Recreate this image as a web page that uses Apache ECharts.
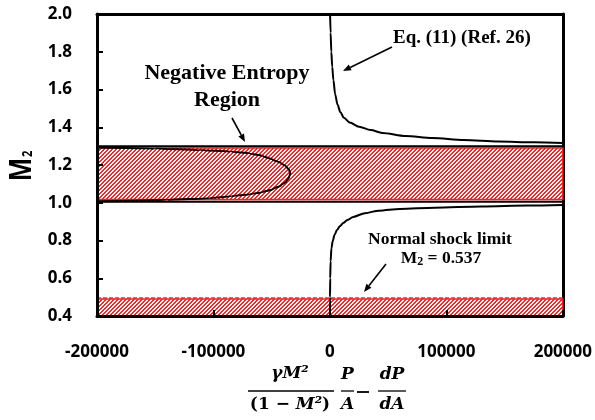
<!DOCTYPE html>
<html>
<head>
<meta charset="utf-8">
<script src="https://cdn.jsdelivr.net/npm/echarts@6/dist/echarts.min.js"></script>
<style>
  html, body { margin: 0; padding: 0; background: #ffffff; }
  #chart { width: 595px; height: 420px; }
</style>
</head>
<body>
<div id="chart"></div>
<script>
// Axis ticks
const xTickValues = [-200000, -100000, 0, 100000, 200000];
const yTickValues = [0.4, 0.6, 0.8, 1.0, 1.2, 1.4, 1.6, 1.8, 2.0];

// Eq. (11), upper branch: [x, M2]
const upperBranch = [
  [150, 2.0], [600, 1.90], [1200, 1.80], [2000, 1.72], [3000, 1.65], [4500, 1.575],
  [6500, 1.52], [9000, 1.48], [12000, 1.45], [17000, 1.425], [25000, 1.403],
  [35000, 1.385], [45000, 1.370], [65000, 1.354], [88000, 1.343], [115000, 1.333],
  [145000, 1.325], [175000, 1.320], [200000, 1.317]
];

// Eq. (11), lower branch: [x, M2]
const lowerBranch = [
  [0, 0.4], [100, 0.5], [250, 0.6], [600, 0.69], [1300, 0.76], [2500, 0.80],
  [4000, 0.83], [6000, 0.855], [8500, 0.875], [11500, 0.893], [15000, 0.908],
  [20000, 0.925], [30000, 0.945], [42000, 0.958], [60000, 0.967], [90000, 0.974],
  [130000, 0.980], [170000, 0.985], [200000, 0.988]
];

// Closed contour bounding the negative entropy region: [x, M2]
const entropyContour = [
  [-200000, 1.293], [-150000, 1.287], [-111800, 1.279], [-85000, 1.271], [-68900, 1.262],
  [-57000, 1.247], [-49000, 1.228], [-42000, 1.210], [-37500, 1.192], [-35000, 1.173],
  [-34100, 1.156], [-35000, 1.136], [-37500, 1.113], [-42000, 1.092], [-49000, 1.072],
  [-58000, 1.056], [-68900, 1.045], [-85000, 1.034], [-103200, 1.024], [-140000, 1.015],
  [-200000, 1.008]
];

// Horizontal limits
const asymptoteLevels = [1.30, 1.005];
const entropyBand = [1.017, 1.29];
const shockBand = [0.4, 0.49];
const shockLimitLevel = 0.496;

const xMin = xTickValues[0], xMax = xTickValues[xTickValues.length - 1];
const yMin = yTickValues[0], yMax = yTickValues[yTickValues.length - 1];

function hatchPattern() {
  const c = document.createElement('canvas');
  c.width = 4; c.height = 4;
  const g = c.getContext('2d');
  g.fillStyle = '#ffffff';
  g.fillRect(0, 0, 4, 4);
  g.fillStyle = '#ff2222';
  for (let x = 0; x < 4; x++) {
    for (let y = 0; y < 4; y++) {
      if ((x + y) % 4 < 2) g.fillRect(x, y, 1, 1);
    }
  }
  return c;
}
const hatch = { image: hatchPattern(), repeat: 'repeat' };

function arrow(x1, y1, x2, y2) {
  const ang = Math.atan2(y2 - y1, x2 - x1);
  const L = 8, W = 3.2;
  const bx = x2 - L * Math.cos(ang), by = y2 - L * Math.sin(ang);
  const nx = -Math.sin(ang), ny = Math.cos(ang);
  return [
    { type: 'line', shape: { x1: x1, y1: y1, x2: bx, y2: by },
      style: { stroke: '#000', lineWidth: 1.6 }, z: 50 },
    { type: 'polygon',
      shape: { points: [[x2, y2], [bx + nx * W, by + ny * W], [bx - nx * W, by - ny * W]] },
      style: { fill: '#000' }, z: 50 }
  ];
}

const serif = '"Liberation Serif", "Times New Roman", serif';
const mathFont = '"DejaVu Serif", serif';
const sans = '"Noto Sans", "DejaVu Sans", sans-serif';
const mathItalic = { fontFamily: mathFont, fontWeight: 'bold', fontStyle: 'italic', fontSize: 17, fill: '#000' };
const mathUpright = { fontFamily: mathFont, fontWeight: 'bold', fontSize: 17, fill: '#000' };

function hline(y, color, width, type) {
  return {
    type: 'line', data: [[xMin, y], [xMax, y]], symbol: 'none', silent: true,
    lineStyle: { color: color, width: width, type: type || 'solid' }, z: 5
  };
}

function frameLine() { return { show: true, onZero: false, lineStyle: { color: '#000', width: 3 } }; }
function tickStyle() {
  return { show: true, inside: true, length: 6, alignWithLabel: true,
           lineStyle: { color: '#000', width: 2 } };
}
const labelStyle = { color: '#000', fontFamily: sans, fontWeight: 'bold', fontSize: 17 };

const chart = echarts.init(document.getElementById('chart'), null, { renderer: 'canvas' });
chart.setOption({
  animation: false,
  backgroundColor: '#ffffff',
  grid: { left: 97, right: 31, top: 14, bottom: 104 },
  xAxis: [
    {
      type: 'value', position: 'bottom', min: xMin, max: xMax, interval: 100000,
      axisLine: frameLine(), axisTick: tickStyle(), splitLine: { show: false },
      axisLabel: Object.assign({ margin: 28, formatter: v => String(v) }, labelStyle), z: 10
    },
    {
      type: 'value', position: 'top', min: xMin, max: xMax,
      axisLine: frameLine(), axisTick: { show: false }, axisLabel: { show: false }, splitLine: { show: false }
    }
  ],
  yAxis: [
    {
      type: 'value', position: 'left', min: yMin, max: yMax, interval: 0.2,
      axisLine: frameLine(), axisTick: tickStyle(), splitLine: { show: false },
      axisLabel: Object.assign({ margin: 25, formatter: v => v.toFixed(1) }, labelStyle), z: 10
    },
    {
      type: 'value', position: 'right', min: yMin, max: yMax,
      axisLine: frameLine(), axisTick: { show: false }, axisLabel: { show: false }, splitLine: { show: false }
    }
  ],
  series: [
    {
      type: 'line', data: [], silent: true, z: 1,
      markArea: {
        silent: true,
        itemStyle: { color: hatch, borderColor: '#ff1a1a', borderWidth: 1.5 },
        data: [
          [{ xAxis: xMin, yAxis: entropyBand[0] }, { xAxis: xMax, yAxis: entropyBand[1] }],
          [{ xAxis: xMin, yAxis: shockBand[0] }, { xAxis: xMax, yAxis: shockBand[1] }]
        ]
      }
    },
    hline(asymptoteLevels[0], '#000', 2),
    hline(asymptoteLevels[1], '#000', 2),
    hline(shockLimitLevel, '#ff2222', 1.5, [4, 2]),
    { type: 'line', data: upperBranch, symbol: 'none', smooth: 0.3, smoothMonotone: 'x',
      lineStyle: { color: '#000', width: 2 }, z: 6, silent: true },
    { type: 'line', data: lowerBranch, symbol: 'none', smooth: 0.3, smoothMonotone: 'x',
      lineStyle: { color: '#000', width: 2 }, z: 6, silent: true },
    { type: 'line', data: entropyContour, symbol: 'none', smooth: 0.3, smoothMonotone: 'y',
      lineStyle: { color: '#000', width: 2 }, z: 6, silent: true }
  ],
  graphic: [
    // axis title
    { type: 'text', x: 22, y: 166, rotation: Math.PI / 2, scaleX: 0.8, z: 50,
      style: { text: '{m|M}{s|2}', align: 'center', verticalAlign: 'middle',
               rich: { m: { fontFamily: sans, fontWeight: 'bold', fontSize: 31, fill: '#000' },
                       s: { fontFamily: sans, fontWeight: 'bold', fontSize: 14, fill: '#000', padding: [12, 0, 0, 1] } } } },
    // annotations
    { type: 'text', x: 227, y: 73, z: 50,
      style: { text: 'Negative Entropy', align: 'center', verticalAlign: 'middle',
               fontFamily: serif, fontWeight: 'bold', fontSize: 22, fill: '#000' } },
    { type: 'text', x: 227, y: 100, z: 50,
      style: { text: 'Region', align: 'center', verticalAlign: 'middle',
               fontFamily: serif, fontWeight: 'bold', fontSize: 22, fill: '#000' } },
    ...arrow(232, 118, 245, 142),
    { type: 'text', x: 393, y: 38, z: 50,
      style: { text: 'Eq. (11) (Ref. 26)', align: 'left', verticalAlign: 'middle',
               fontFamily: serif, fontWeight: 'bold', fontSize: 19, fill: '#000' } },
    ...arrow(392, 47, 343, 71),
    { type: 'text', x: 440, y: 239, z: 50,
      style: { text: 'Normal shock limit', align: 'center', verticalAlign: 'middle',
               fontFamily: serif, fontWeight: 'bold', fontSize: 17.5, fill: '#000' } },
    { type: 'text', x: 441, y: 258, z: 50,
      style: { text: '{a|M}{b|2}{a| = 0.537}', align: 'center', verticalAlign: 'middle',
               rich: { a: { fontFamily: serif, fontWeight: 'bold', fontSize: 17.5, fill: '#000' },
                       b: { fontFamily: serif, fontWeight: 'bold', fontSize: 12, fill: '#000', padding: [8, 0, 0, 0] } } } },
    ...arrow(386, 264, 364, 292),
    // x-axis title (formula)
    { type: 'text', x: 290, y: 374, z: 50,
      style: Object.assign({ text: 'γM²', align: 'center', verticalAlign: 'middle' }, mathItalic) },
    { type: 'line', shape: { x1: 248, y1: 391, x2: 334, y2: 391 }, style: { stroke: '#000', lineWidth: 1.3 } },
    { type: 'text', x: 290, y: 405, z: 50,
      style: { text: '{u|(1 − }{i|M²}{u|)}', align: 'center', verticalAlign: 'middle',
               rich: { u: mathUpright, i: mathItalic } } },
    { type: 'text', x: 347.5, y: 375, z: 50,
      style: Object.assign({ text: 'P', align: 'center', verticalAlign: 'middle' }, mathItalic) },
    { type: 'line', shape: { x1: 341, y1: 391, x2: 354, y2: 391 }, style: { stroke: '#000', lineWidth: 1.3 } },
    { type: 'text', x: 347.5, y: 405, z: 50,
      style: Object.assign({ text: 'A', align: 'center', verticalAlign: 'middle' }, mathItalic) },
    { type: 'line', shape: { x1: 357, y1: 392, x2: 369, y2: 392 }, style: { stroke: '#000', lineWidth: 1.8 } },
    { type: 'text', x: 392, y: 375, z: 50,
      style: Object.assign({ text: 'dP', align: 'center', verticalAlign: 'middle' }, mathItalic) },
    { type: 'line', shape: { x1: 378, y1: 391, x2: 406, y2: 391 }, style: { stroke: '#000', lineWidth: 1.3 } },
    { type: 'text', x: 392, y: 405, z: 50,
      style: Object.assign({ text: 'dA', align: 'center', verticalAlign: 'middle' }, mathItalic) }
  ]
});
</script>
</body>
</html>
